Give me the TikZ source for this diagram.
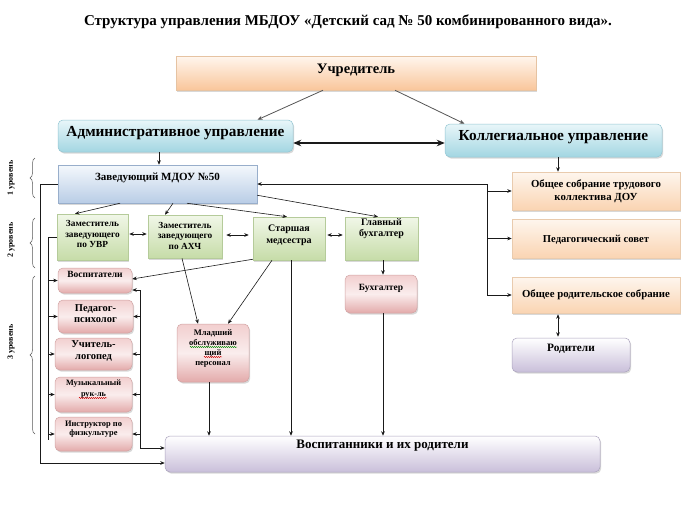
\documentclass[tikz,border=0pt]{standalone}
\usepackage{fontspec}
\setmainfont{Liberation Serif}
\usetikzlibrary{arrows.meta,shadows,decorations.pathreplacing,decorations.pathmorphing,calc}
\definecolor{ln}{HTML}{1A1A1A}
\definecolor{gl}{HTML}{555555}
\definecolor{uT}{HTML}{FFF6EE}\definecolor{uB}{HTML}{F9C69B}\definecolor{uD}{HTML}{E6C3A2}
\definecolor{oT}{HTML}{FEF6EE}\definecolor{oB}{HTML}{FAD4B2}\definecolor{oD}{HTML}{E9CBAE}
\definecolor{bT}{HTML}{E8F6F9}\definecolor{bB}{HTML}{A3D6E2}\definecolor{bD}{HTML}{93C6D3}
\definecolor{zT}{HTML}{F4F8FC}\definecolor{zB}{HTML}{B9CDE6}\definecolor{zD}{HTML}{98AECB}
\definecolor{gT}{HTML}{F1F7E8}\definecolor{gB}{HTML}{C6DCA8}\definecolor{gD}{HTML}{B5CB9A}
\definecolor{pT}{HTML}{F2CFCF}\definecolor{pM}{HTML}{FAEDED}\definecolor{pB}{HTML}{E3AAAA}\definecolor{pD}{HTML}{D2A4A4}
\definecolor{lB}{HTML}{C9BFDA}\definecolor{lD}{HTML}{ABA3BE}
\begin{document}
\begin{tikzpicture}[x=1pt,y=-1pt,
  wh/.style 2 args={minimum width=#1pt, minimum height=#2pt},
  base/.style={draw, line width=0.5pt, inner sep=0pt,
    drop shadow={opacity=0.3, shadow xshift=1.2pt, shadow yshift=-1.6pt}},
  uS/.style={base, draw=uD, top color=uT, bottom color=uB},
  oS/.style={base, draw=oD, top color=oT, bottom color=oB},
  bS/.style={base, rounded corners=5pt, draw=bD, top color=bT, bottom color=bB},
  zS/.style={base, draw=zD, top color=zT, bottom color=zB},
  gS/.style={base, draw=gD, top color=gT, bottom color=gB},
  pS/.style={base, rounded corners=5pt, draw=pD, top color=pT, bottom color=pB, middle color=pM},
  lS/.style={base, rounded corners=5pt, draw=lD, top color=white, bottom color=lB},
  tx/.style={align=center, inner sep=0pt, text=black},
  fs/.style 2 args={font=\bfseries\fontsize{#1}{#2}\selectfont},
  arr/.style={draw=ln, line width=0.6pt, -{Stealth[length=4.5pt,width=3.6pt]}},
  darr/.style={draw=ln, line width=0.6pt, {Stealth[length=4.5pt,width=3.6pt]}-{Stealth[length=4.5pt,width=3.6pt]}},
  garr/.style={draw=gl, line width=0.8pt, -{Stealth[length=5pt,width=4pt]}},
  plain/.style={draw=ln, line width=0.6pt},
  brc/.style={draw=gray!70!black, line width=0.5pt, decorate, decoration={brace, amplitude=5pt}},
  wavy/.style={line width=0.4pt, decorate, decoration={snake, amplitude=0.6pt, segment length=2pt}}
]
\fill[white] (0,0) rectangle (696,506);
\path[use as bounding box] (0,0) rectangle (696,506);

\node[tx, fs={15}{17}] (title) at (348,22) {Структура управления МБДОУ «Детский сад № 50 комбинированного вида».};

% top level
\node[uS, wh={360}{34}] (uchr) at (356,73) {};
\node[tx, fs={14.5}{16}] (t-uchr) at ([yshift=3pt]uchr.center) {Учредитель};
\node[bS, wh={235}{32}] (adm) at (175.5,136) {};
\node[tx, fs={15.3}{17}] (t-adm) at ([yshift=3pt]adm.center) {Административное управление};
\node[bS, wh={217}{33}] (koll) at (553.5,140.5) {};
\node[tx, fs={15.3}{17}] (t-koll) at ([yshift=3pt]koll.center) {Коллегиальное управление};

% level 1
\node[zS, wh={199}{38}] (zav) at (157.5,184) {};
\node[tx, fs={11}{13}] (t-zav) at ([yshift=6pt]zav.center) {Заведующий МДОУ №50};

% level 2
\node[gS, wh={71}{46}] (uvr) at (92.5,237) {};
\node[tx, fs={9.3}{10.5}] (t-uvr) at ([yshift=3pt]uvr.center) {Заместитель\\заведующего\\по УВР};
\node[gS, wh={74}{43}] (axch) at (185,236.5) {};
\node[tx, fs={9.3}{10.5}] (t-axch) at ([yshift=1pt]axch.center) {Заместитель\\заведующего\\по АХЧ};
\node[gS, wh={72}{43}] (med) at (289,238.5) {};
\node[tx, fs={10}{12}] (t-med) at ([yshift=3pt]med.center) {Старшая\\медсестра};
\node[gS, wh={73}{43}] (glav) at (381.5,238.5) {};
\node[tx, fs={10}{11.5}] (t-glav) at ([yshift=10pt]glav.center) {Главный\\бухгалтер};
\node[pS, wh={72}{38}] (buh) at (381,294) {};
\node[tx, fs={9.5}{11}] (t-buh) at ([yshift=6pt]buh.center) {Бухгалтер};

% right column
\node[oS, wh={168}{38}] (osob) at (596,191) {};
\node[tx, fs={10.8}{13}] (t-osob) at (osob.center) {Общее собрание трудового\\коллектива ДОУ};
\node[oS, wh={168}{39}] (psov) at (596,238.5) {};
\node[tx, fs={10.6}{13}] (t-psov) at ([yshift=-1pt]psov.center) {Педагогический совет};
\node[oS, wh={168}{36}] (orod) at (596,295) {};
\node[tx, fs={10.8}{13}] (t-orod) at (orod.center) {Общее родительское собрание};
\node[lS, wh={118}{34}] (rod) at (571,355) {};
\node[tx, fs={11.3}{13}] (t-rod) at ([yshift=6pt]rod.center) {Родители};

% level 3
\node[pS, wh={74}{25}] (vosp) at (95,280.5) {};
\node[tx, fs={9.5}{11}] (t-vosp) at ([yshift=6pt]vosp.center) {Воспитатели};
\node[pS, wh={75}{33}] (pedps) at (95.5,316.5) {};
\node[tx, fs={10.5}{11}] (t-pedps) at ([yshift=3pt]pedps.center) {Педагог-\\психолог};
\node[pS, wh={77}{32}] (logo) at (93.5,354) {};
\node[tx, fs={10.5}{12.5}] (t-logo) at ([yshift=3pt]logo.center) {Учитель-\\логопед};
\node[pS, wh={77}{35}] (muz) at (93.5,394.5) {};
\node[tx, fs={8.2}{11}] (t-muz) at ([yshift=5pt]muz.center) {Музыкальный\\рук-ль};
\node[pS, wh={77}{34}] (instr) at (93.5,434) {};
\node[tx, fs={8.4}{9}] (t-instr) at ([yshift=5pt]instr.center) {Инструктор по\\физкультуре};
\node[pS, wh={72}{58}] (mlad) at (213,353) {};
\node[tx, fs={8.5}{10}] (t-mlad) at ([yshift=5pt]mlad.center) {Младший\\обслуживаю\\щий\\персонал};
\node[lS, wh={435}{36}] (vr) at (382.5,454) {};
\node[tx, fs={13}{15}] (t-vr) at ([yshift=8pt]vr.center) {Воспитанники и их родители};

% level labels
\node[tx, rotate=90, fs={8}{9}] (l1) at (11,178) {1 уровень};
\node[tx, rotate=90, fs={8}{9}] (l2) at (11,240) {2 уровень};
\node[tx, rotate=90, fs={8}{9}] (l3) at (11,342) {3 уровень};
\draw[brc] (35,198) -- (35,158);
\draw[brc] (35,268) -- (35,218);
\draw[brc] (35,434) -- (35,276);

% connectors top
\draw[garr] ([xshift=-33pt]uchr.south) -- ([xshift=82pt]adm.north);
\draw[garr] ([xshift=39pt]uchr.south) -- ([xshift=-89pt]koll.north);
\draw[draw=ln, line width=1.8pt, {Stealth[length=8pt,width=6.5pt]}-{Stealth[length=8pt,width=6.5pt]}]
  ([yshift=-7pt]adm.east) -- ([yshift=-2.5pt]koll.west);
\draw[arr] ([xshift=-16.5pt]adm.south) -- ([xshift=1.5pt]zav.north);
\draw[arr] ([xshift=4.5pt]koll.south) -- ([xshift=-38pt]osob.north);

% right bracket
\coordinate (rb) at (487,184);
\draw[arr] (rb) -- (zav.east);
\draw[plain] (rb) -- (rb |- orod.west);
\foreach \n in {osob,psov,orod} \draw[arr] (rb |- \n.west) -- (\n.west);
\draw[darr, shorten <=1pt, shorten >=1pt] ([xshift=-38pt]orod.south) -- ([xshift=-13pt]rod.north);

% zav to level 2
\draw[arr] ([xshift=-37.5pt]zav.south) -- ([xshift=-17.5pt]uvr.north);
\draw[arr] ([xshift=15.5pt]zav.south) -- ([xshift=-20pt]axch.north);
\draw[arr] ([xshift=29.5pt]zav.south) -- ([xshift=-2pt]med.north);
\draw[arr] ([yshift=8pt]zav.south east) -- ([xshift=-3.5pt]glav.north);

% level 2 links
\draw[darr, shorten <=1pt, shorten >=1pt] ([yshift=3pt]uvr.east) -- ([yshift=2.5pt]axch.west);
\draw[darr, shorten <=4pt, shorten >=4pt] ([yshift=1.5pt]axch.east) -- ([yshift=3.5pt]med.west);
\draw[darr, shorten <=2pt, shorten >=2pt] ([yshift=3.5pt]med.east) -- ([yshift=3.5pt]glav.west);
\draw[arr] ([xshift=1.5pt]glav.south) -- ([xshift=2pt]buh.north);

% to level 3
\draw[arr] ([yshift=1pt]med.south west) -- ([yshift=1.5pt]vosp.east);
\draw[arr] ([xshift=-3pt]axch.south) -- ([xshift=-15pt]mlad.north);
\draw[arr] ([xshift=-17pt]med.south) -- ([xshift=15pt]mlad.north);
\draw[arr] ([xshift=-4pt]mlad.south) -- ([xshift=-4pt]mlad.south |- vr.north);
\draw[arr] ([xshift=2pt]med.south) -- ([xshift=2pt]med.south |- vr.north);
\draw[arr] ([xshift=2pt]buh.south) -- ([xshift=2pt]buh.south |- vr.north);

% left lines
\coordinate (lz) at (40,184);
\draw[arr] (zav.west) -- (lz) |- ([yshift=-9pt]vr.west);
\coordinate (lu) at (48,237);
\coordinate (lub) at (48,440);
\draw[plain] (uvr.west) -- (lu) -- (lub);
\foreach \n in {vosp,pedps,logo,muz,instr} \draw[arr] (lu |- \n.west) -- (\n.west);
\coordinate (rt) at (140,290);
\draw[arr] (rt) |- ([yshift=6pt]vr.west);
\draw[arr] (rt) -- (rt -| vosp.east);
\foreach \n in {pedps,logo,muz,instr} \draw[arr] (rt |- \n.east) -- (\n.east);

% spell-check underlines
\draw[wavy, draw=green!55!black] (190,347) -- (237,347);
\draw[wavy, draw=red!80!black] (204,357) -- (222,357);
\draw[wavy, draw=red!80!black] (79,398) -- (107,398);
\end{tikzpicture}
\end{document}
